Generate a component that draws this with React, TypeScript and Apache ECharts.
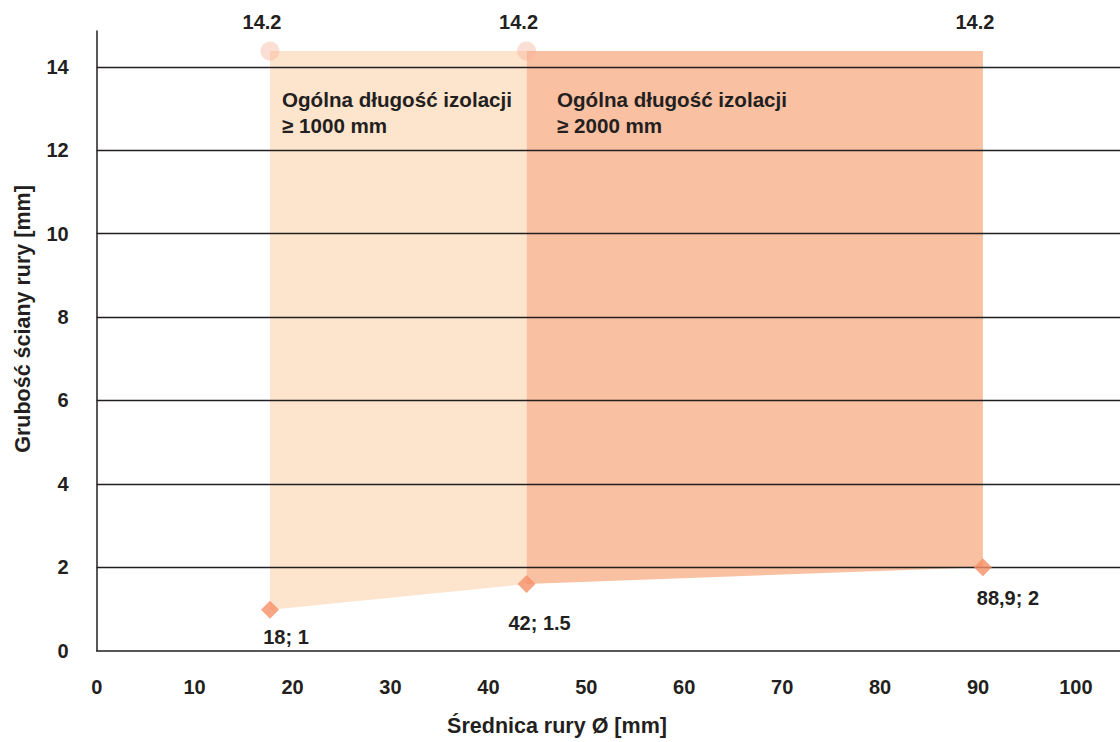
import React, { useEffect, useRef } from "react";
import * as echarts from "echarts";

// ---- data ----
const pointX = [17.7, 43.9, 90.5];
const pointY = [0.98, 1.6, 2.0];
const pointLabels = ["18; 1", "42; 1.5", "88,9; 2"];
const topY = [14.38, 14.38, 14.38];
const topLabels = ["14.2", "14.2", "14.2"];
const topMarkerVisible = [true, true, false];
const regionTitles = [
  "Ogólna długość izolacji\n≥ 1000 mm",
  "Ogólna długość izolacji\n≥ 2000 mm",
];
const xAxisTitle = "Średnica rury Ø [mm]";
const yAxisTitle = "Grubość ściany rury [mm]";

const TEXT = "#231F20";
const FONT = "'Liberation Sans', Arial, sans-serif";
const regionColors = ["#FDE4CD", "#F9C0A2"];
const diamondLabelOffsets = [
  [16, 27],
  [13, 39],
  [25, 31],
];

const labelBase = {
  show: true,
  position: "inside",
  color: TEXT,
  opacity: 1,
  textBorderWidth: 0,
  textBorderColor: "transparent",
  textShadowBlur: 0,
  fontSize: 20,
  fontWeight: "bold",
  fontFamily: FONT,
};

export default function App() {
  const ref = useRef<HTMLDivElement>(null);

  useEffect(() => {
    if (!ref.current) return;
    const chart = echarts.init(ref.current, undefined, { renderer: "svg" });

    const regionData = [0, 1].map((i) => [
      pointX[i],
      pointY[i],
      pointX[i + 1],
      pointY[i + 1],
      topY[i],
    ]);

    const option: any = {
      animation: false,
      backgroundColor: "#ffffff",
      textStyle: { fontFamily: FONT },
      grid: { left: 96.7, right: 0, top: 31, bottom: 91.3, containLabel: false },
      xAxis: {
        type: "value",
        min: 0,
        max: 104.5,
        interval: 10,
        z: 2,
        axisLine: { show: true, lineStyle: { color: TEXT, width: 1.5 } },
        axisTick: { show: false },
        splitLine: { show: false },
        axisLabel: {
          showMaxLabel: false,
          margin: 26,
          color: TEXT,
          fontSize: 20,
          fontWeight: "bold",
          fontFamily: FONT,
        },
      },
      yAxis: {
        type: "value",
        min: 0,
        max: 14.86,
        interval: 2,
        z: 2,
        axisLine: { show: true, lineStyle: { color: TEXT, width: 1.5 } },
        axisTick: { show: false },
        splitLine: {
          show: true,
          showMinLine: false,
          showMaxLine: false,
          lineStyle: { color: TEXT, width: 1.3 },
        },
        axisLabel: {
          showMaxLabel: false,
          margin: 28,
          color: TEXT,
          fontSize: 20,
          fontWeight: "bold",
          fontFamily: FONT,
        },
      },
      series: [
        {
          type: "custom",
          z: 1,
          clip: false,
          silent: true,
          data: regionData,
          encode: { x: [0, 2], y: [1, 3, 4] },
          renderItem: (params: any, api: any) => {
            const x1 = api.value(0);
            const y1 = api.value(1);
            const x2 = api.value(2);
            const y2 = api.value(3);
            const t = api.value(4);
            const pts = [
              api.coord([x1, t]),
              api.coord([x2, t]),
              api.coord([x2, y2]),
              api.coord([x1, y1]),
            ];
            return {
              type: "polygon",
              shape: { points: pts },
              style: { fill: regionColors[params.dataIndex] },
            };
          },
        },
        {
          type: "scatter",
          z: 5,
          silent: true,
          symbol: "circle",
          symbolSize: 19,
          data: pointX.map((x, i) => ({
            value: [x, topY[i]],
            symbolSize: topMarkerVisible[i] ? 19 : 0,
            label: { formatter: topLabels[i] },
          })),
          itemStyle: { color: "rgba(247,176,148,0.5)" },
          label: { ...labelBase, offset: [-8, -29] },
        },
        {
          type: "scatter",
          z: 6,
          silent: true,
          symbol: "diamond",
          symbolSize: [18, 18],
          data: pointX.map((x, i) => ({
            value: [x, pointY[i]],
            label: { formatter: pointLabels[i], offset: diamondLabelOffsets[i] },
          })),
          itemStyle: { color: "#F68F67" },
          label: { ...labelBase },
        },
      ],
      graphic: [
        {
          type: "text",
          x: 282,
          y: 86,
          z: 10,
          style: {
            text: regionTitles[0],
            font: `bold 20.6px ${FONT}`,
            fill: TEXT,
            lineHeight: 26,
            textAlign: "left",
            textVerticalAlign: "top",
            verticalAlign: "top",
          },
        },
        {
          type: "text",
          x: 557,
          y: 86,
          z: 10,
          style: {
            text: regionTitles[1],
            font: `bold 20.6px ${FONT}`,
            fill: TEXT,
            lineHeight: 26,
            textAlign: "left",
            textVerticalAlign: "top",
            verticalAlign: "top",
          },
        },
        {
          type: "text",
          x: 557,
          y: 726,
          z: 10,
          style: {
            text: xAxisTitle,
            font: `bold 21.5px ${FONT}`,
            fill: TEXT,
            textAlign: "center",
            textVerticalAlign: "middle",
            verticalAlign: "middle",
          },
        },
        {
          type: "text",
          x: 23,
          y: 319,
          rotation: Math.PI / 2,
          z: 10,
          style: {
            text: yAxisTitle,
            font: `bold 21.5px ${FONT}`,
            fill: TEXT,
            textAlign: "center",
            textVerticalAlign: "middle",
            verticalAlign: "middle",
          },
        },
      ],
    };

    chart.setOption(option);
    return () => {
      chart.dispose();
    };
  }, []);

  return (
    <div
      ref={ref}
      style={{ position: "fixed", left: 0, top: 0, width: 1120, height: 742 }}
    />
  );
}
